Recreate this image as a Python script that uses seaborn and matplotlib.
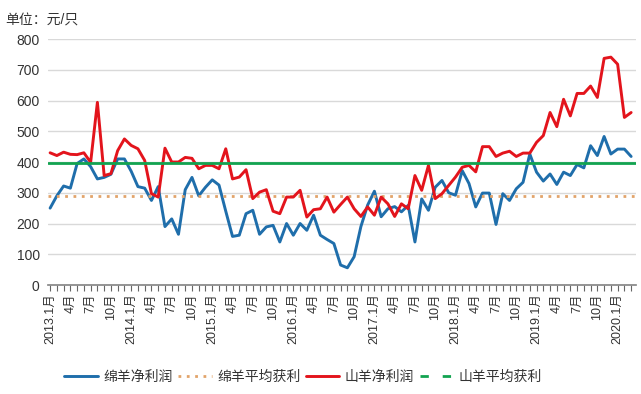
import matplotlib
matplotlib.use("Agg")
import matplotlib.pyplot as plt
from matplotlib.lines import Line2D
import seaborn as sns
import pandas as pd
import numpy as np

# ---- data ----
sheep_profit = [250, 290, 322, 315, 395, 410, 385, 345, 350, 360, 410, 410,
                370, 320, 315, 275, 320, 190, 215, 165, 310, 350, 290, 318,
                342, 325, 240, 158, 162, 232, 243, 165, 189, 194, 140, 200,
                162, 200, 178, 227, 162, 148, 135, 65, 56, 92, 190, 260,
                305, 222, 248, 255, 238, 259, 140, 280, 243, 318, 340, 300,
                292, 372, 330, 254, 299, 299, 197, 297, 275, 313, 334, 426,
                367, 338, 361, 327, 367, 356, 392, 381, 453, 421, 483, 426,
                442, 442, 418]
goat_profit = [430, 421, 432, 425, 424, 430, 399, 594, 356, 362, 437, 475,
               454, 443, 405, 297, 286, 445, 400, 400, 415, 412, 378, 389,
               389, 378, 443, 345, 351, 375, 281, 302, 310, 240, 232, 286,
               286, 308, 221, 245, 248, 286, 237, 262, 286, 248, 223, 254,
               227, 286, 264, 223, 264, 248, 356, 308, 389, 281, 297, 324,
               351, 383, 389, 368, 450, 450, 418, 429, 435, 418, 429, 429,
               464, 486, 561, 515, 604, 550, 623, 623, 647, 610, 737, 741,
               718, 545, 561]
sheep_avg = 290
goat_avg = 396
series_names = ["绵羊净利润", "绵羊平均获利", "山羊净利润", "山羊平均获利"]

months = []
for y in range(2013, 2021):
    for m in range(1, 13):
        months.append((y, m))
months = months[:len(sheep_profit)]
tick_labels = [f"{y}.{m}月" if m == 1 else f"{m}月" for (y, m) in months]

df = pd.DataFrame({"idx": np.arange(len(sheep_profit)),
                   "sheep": sheep_profit, "goat": goat_profit})

# ---- style ----
sns.set_theme(style="white")
plt.rcParams["font.family"] = ["Liberation Sans", "Noto Sans CJK SC"]

fig = plt.figure(figsize=(6.41, 3.94), dpi=100)
ax = fig.add_axes([0.075, 0.2766, 0.917, 0.6244])

blue = "#1F6EAB"
red = "#E3141C"
tan = "#E2A46A"
green = "#12A350"

sns.lineplot(data=df, x="idx", y="sheep", ax=ax, color=blue, lw=2.1)
ax.axhline(sheep_avg, color=tan, lw=2.0, ls=(0, (1, 2)))
sns.lineplot(data=df, x="idx", y="goat", ax=ax, color=red, lw=2.1)
ax.axhline(goat_avg, color=green, lw=2.0, ls="-")

ax.set_ylim(0, 800)
ax.set_yticks(range(0, 801, 100))
ax.set_xlim(-0.3, len(sheep_profit) - 0.3)
ax.set_xticks(range(0, len(sheep_profit), 3))
ax.set_xticklabels(tick_labels[::3], rotation=90, fontsize=9, color="#333333")
ax.set_xticks(range(len(sheep_profit)), minor=True)
ax.tick_params(axis="x", which="both", direction="out", length=4,
               color="#666666", width=0.8, bottom=True, pad=2)
ax.tick_params(axis="y", labelsize=10, length=0, labelcolor="#333333", pad=6)
ax.grid(axis="y", color="#D9D9D9", lw=1)
ax.set_axisbelow(True)
for s in ["left", "right", "top"]:
    ax.spines[s].set_visible(False)
ax.spines["bottom"].set_color("#888888")
ax.set_xlabel("")
ax.set_ylabel("")

fig.text(0.008, 0.948, "单位：元/只", fontsize=10, color="#333333",
         ha="left", va="center")

handles = [Line2D([], [], color=blue, lw=2.1),
           Line2D([], [], color=tan, lw=2.0, ls=(0, (1, 2))),
           Line2D([], [], color=red, lw=2.1),
           Line2D([], [], color=green, lw=2.0, ls=(0, (3, 5)))]
fig.legend(handles, series_names, loc="center", bbox_to_anchor=(0.473, 0.043),
           ncol=4, frameon=False, fontsize=10, handlelength=2.4,
           handletextpad=0.4, columnspacing=0.4, labelcolor="#333333")

fig.savefig("out.png", dpi=100)
